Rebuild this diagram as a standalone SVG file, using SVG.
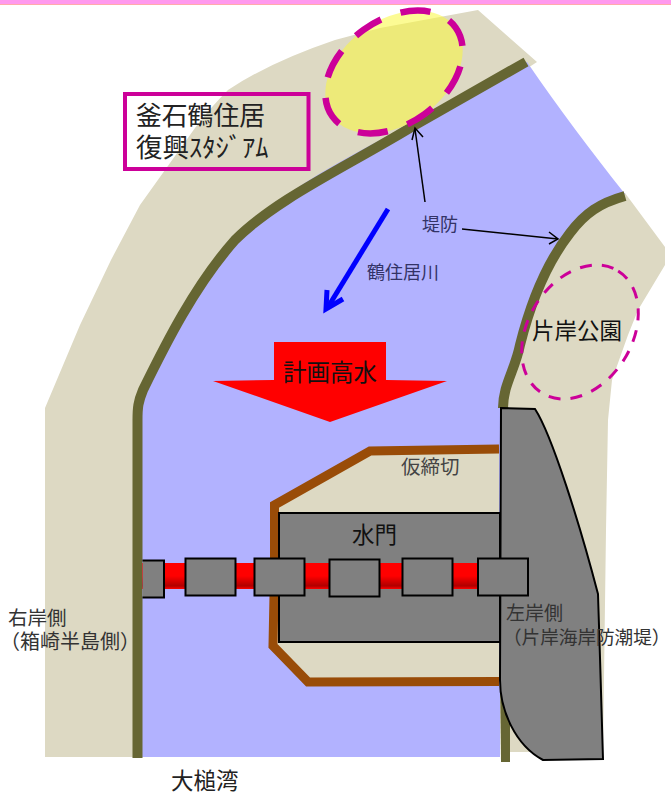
<svg xmlns="http://www.w3.org/2000/svg" width="671" height="796" viewBox="0 0 671 796">
<style>
.t{font-family:"Noto Sans CJK JP","Noto Sans CJK SC",sans-serif;font-weight:400}
.land{fill:#DDD9C3}
.levee{fill:none;stroke:#666633;stroke-width:10}
.pier{fill:#808080;stroke:#000;stroke-width:2}
.call{fill:none;stroke:#000;stroke-width:1.5}
</style>
<defs>
<linearGradient id="bar" x1="0" y1="0" x2="0" y2="1">
<stop offset="0" stop-color="#ff0000"/><stop offset="0.5" stop-color="#ff0000"/><stop offset="0.88" stop-color="#b00000"/><stop offset="1" stop-color="#ff0000"/>
</linearGradient>
</defs>
<rect width="671" height="796" fill="#fff"/>
<rect x="0" y="0" width="671" height="4" fill="#FF99EE"/>
<rect x="0" y="4" width="671" height="1" fill="#FFAAAA"/>
<g id="land-right-bank"><path class="land" d="M45,757 L45,408 L80,325 L111,260 L140,205 L165,170 L195,128 Q210,108 228,90 Q270,62 335,40 L380,28 L478,10 L537,62 L400,150 L142,405 L142,757 Z"/></g>
<g id="land-left-bank"><path class="land" d="M625,193 L665,247 L665,265 L638,310 L628,335 L612,380 L608,420 L606,530 L603,752 L510,752 L500,408 C503,385 515,370 520,345 C530,305 545,265 570,233 C585,213 600,203 625,193 Z"/></g>
<g id="river"><path fill="#B2B2FF" d="M527,62 C560,110 590,150 625,194 C600,203 585,213 570,233 C545,265 530,305 520,345 C515,370 503,385 500,408 L500,757 L142,757 L138,405 C165,340 200,275 240,235 C300,170 420,125 527,62 Z"/></g>
<g id="levees">
<path class="levee" d="M526,62 L410,128 C340,170 275,200 235,240 C195,285 165,345 143,390 C138,402 137.500,408 137.500,420 L137.500,758"/>
<path class="levee" d="M625,196 C600,203 585,213 570,233 C545,265 530,305 520,345 C515,370 503,385 503,408"/>
<path d="M500,680 H510 V762 H501 Z" fill="#666633"/>
</g>
<g id="stadium"><ellipse cx="394" cy="72" rx="76" ry="52" transform="rotate(-36 394 72)" fill="#FAF83C" fill-opacity="0.55" stroke="#CC0099" stroke-width="6.500" stroke-dasharray="30 20.700" stroke-dashoffset="10"/></g>
<g id="park"><ellipse cx="580" cy="332" rx="72" ry="52" transform="rotate(-58 580 332)" fill="none" stroke="#CC0099" stroke-width="3" stroke-dasharray="12 10"/></g>
<g id="stadium-label">
<rect x="125" y="94" width="183.500" height="75" fill="none" stroke="#CC0099" stroke-width="4"/>
<text class="t" x="136" y="125" font-size="25.800" fill="#222">釜石鶴住居</text>
<text class="t" x="136" y="157" font-size="26.500" fill="#222">復興ｽﾀｼﾞｱﾑ</text>
</g>
<g id="flow-direction">
<path d="M388,209 L328,307" fill="none" stroke="#0000FF" stroke-width="5"/>
<path d="M327,290 L326,309 L343,299" fill="none" stroke="#0000FF" stroke-width="5"/>
<text class="t" x="367" y="279" font-size="18" fill="#333366">鶴住居川</text>
</g>
<g id="design-flood">
<polygon points="274,342 386,342 386,380 447,381 330,422 213,381 274,380" fill="#FF0000"/>
<text class="t" x="283" y="381" font-size="23.500" fill="#111">計画高水</text>
</g>
<g id="cofferdam">
<path d="M499,449 L370,451 L274.500,505 L274.500,570 L273,646 L308,682 L499,681.500" fill="#DDD9C3" stroke="#994C08" stroke-width="9"/>
<text class="t" x="401" y="474" font-size="19.500" fill="#444">仮締切</text>
</g>
<g id="floodgate">
<rect x="279" y="513" width="221" height="129" fill="#808080" stroke="#000" stroke-width="2"/>
<rect x="142" y="563" width="358" height="26" fill="url(#bar)"/>
<text class="t" x="352" y="543" font-size="22.500" fill="#111">水門</text>
</g>
<g id="seawall"><path d="M501,408 L535,409 C552,435 580,525 598,594 C600,650 601,700 603,759 L543,760 C515,745 500,710 500,680 Z" fill="#808080" stroke="#000" stroke-width="2"/></g>
<g id="piers">
<path class="pier" d="M142.500,560.500 H164 V597.500 H142.500"/>
<rect class="pier" x="185.500" y="558.500" width="50" height="37"/>
<rect class="pier" x="254.500" y="558.500" width="50" height="37"/>
<rect class="pier" x="329.500" y="559.500" width="50" height="37"/>
<rect class="pier" x="402.500" y="558.500" width="50" height="37"/>
<rect class="pier" x="478" y="558.500" width="50" height="37"/>
</g>
<g id="connectors">
<path class="call" d="M425,202 L415,129"/>
<path class="call" d="M412,140 L415,128 L423,137"/>
<path class="call" d="M462,229 L558,239"/>
<path class="call" d="M549,232 L558,239 L549,244"/>
</g>
<g id="levee-label"><text class="t" x="422" y="231" font-size="18" fill="#333366">堤防</text></g>
<g id="park-label"><text class="t" x="532" y="339" font-size="22.500" fill="#111">片岸公園</text></g>
<g id="left-bank-label">
<text class="t" x="506" y="620" font-size="19" fill="#333">左岸側</text>
<text class="t" x="503" y="644" font-size="18.600" fill="#333">（片岸海岸防潮堤）</text>
</g>
<g id="right-bank-label">
<text class="t" x="8" y="625" font-size="19.500" fill="#333">右岸側</text>
<text class="t" x="0" y="649" font-size="20" fill="#333">（箱崎半島側）</text>
</g>
<g id="bay-label"><text class="t" x="171" y="789" font-size="22.500" fill="#222">大槌湾</text></g>
</svg>
